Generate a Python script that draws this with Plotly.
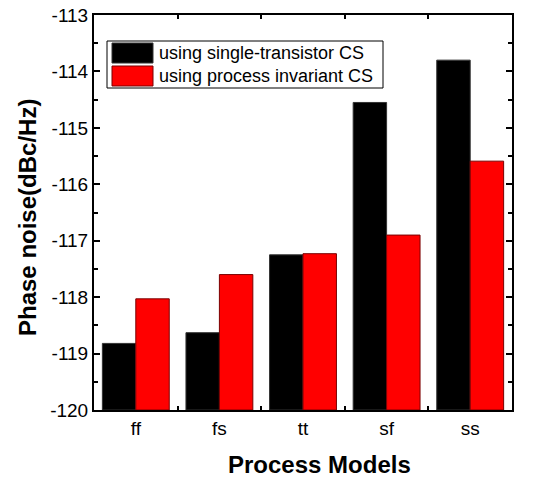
import plotly.graph_objects as go

categories = ["ff", "fs", "tt", "sf", "ss"]
single_transistor = [-118.82, -118.63, -117.25, -114.55, -113.80]
process_invariant = [-118.03, -117.60, -117.23, -116.90, -115.59]
series_names = ["using single-transistor CS", "using process invariant CS"]
y_ticks = [-120, -119, -118, -117, -116, -115, -114, -113]
x_title = "Process Models"
y_title = "Phase noise(dBc/Hz)"
y_base = -120

FONT = "Arial, Liberation Sans, sans-serif"

fig = go.Figure()
fig.add_trace(go.Bar(
    x=categories, y=[v - y_base for v in single_transistor], base=y_base,
    name=series_names[0], marker=dict(color="#000000", line=dict(color="#333333", width=1)),
    showlegend=False,
))
fig.add_trace(go.Bar(
    x=categories, y=[v - y_base for v in process_invariant], base=y_base,
    name=series_names[1], marker=dict(color="#FF0000", line=dict(color="#7a0000", width=1)),
    showlegend=False,
))

# plot area pixel geometry (for legend / title placement)
L, R, T, B = 94, 512, 15, 410
W, H = R - L, B - T
def px(x): return (x - L) / W
def py(y): return (B - y) / H

shapes = [
    dict(type="rect", xref="paper", yref="paper", x0=px(107), x1=px(383), y0=py(88), y1=py(41),
         line=dict(color="#000000", width=1), fillcolor="white", layer="above"),
    dict(type="rect", xref="paper", yref="paper", x0=px(112), x1=px(153), y0=py(63), y1=py(43),
         line=dict(color="#333333", width=1), fillcolor="#000000", layer="above"),
    dict(type="rect", xref="paper", yref="paper", x0=px(112), x1=px(153), y0=py(86), y1=py(66),
         line=dict(color="#7a0000", width=1), fillcolor="#FF0000", layer="above"),
]
annotations = [
    dict(xref="paper", yref="paper", x=px(157), y=py(53), text=series_names[0], showarrow=False,
         xanchor="left", yanchor="middle", font=dict(family=FONT, size=18, color="black")),
    dict(xref="paper", yref="paper", x=px(157), y=py(76), text=series_names[1], showarrow=False,
         xanchor="left", yanchor="middle", font=dict(family=FONT, size=18, color="black")),
    dict(xref="paper", yref="paper", x=px(319), y=py(464), text="<b>%s</b>" % x_title, showarrow=False,
         xanchor="center", yanchor="middle", font=dict(family=FONT, size=24, color="black")),
    dict(xref="paper", yref="paper", x=px(27), y=py(218), text="<b>%s</b>" % y_title, showarrow=False,
         textangle=-90, xanchor="center", yanchor="middle", font=dict(family=FONT, size=24, color="black")),
]

fig.update_layout(
    width=545, height=479,
    margin=dict(l=L, r=545 - R, t=T, b=479 - B),
    paper_bgcolor="white", plot_bgcolor="white",
    barmode="group", bargap=0.2, bargroupgap=0,
    font=dict(family=FONT, color="black"),
    shapes=shapes, annotations=annotations,
)
fig.update_xaxes(
    type="category", tickson="boundaries", ticks="inside", ticklen=4, tickwidth=2, tickcolor="black",
    showline=True, linewidth=2, linecolor="black", mirror="ticks", showgrid=False,
    tickfont=dict(family=FONT, size=19), automargin=False,
)
fig.update_yaxes(
    range=[-120, -113], tickvals=y_ticks, ticktext=[str(t) for t in y_ticks],
    ticks="inside", ticklen=6, tickwidth=2, tickcolor="black",
    minor=dict(dtick=0.5, ticks="inside", ticklen=4, tickwidth=2, tickcolor="black", showgrid=False),
    showline=True, linewidth=2, linecolor="black", mirror="ticks", showgrid=False, zeroline=False,
    tickfont=dict(family=FONT, size=19), automargin=False,
)

fig.write_html("out.html", config={"displayModeBar": False},
               post_script="document.body.style.margin='0';document.body.style.overflow='hidden';")
